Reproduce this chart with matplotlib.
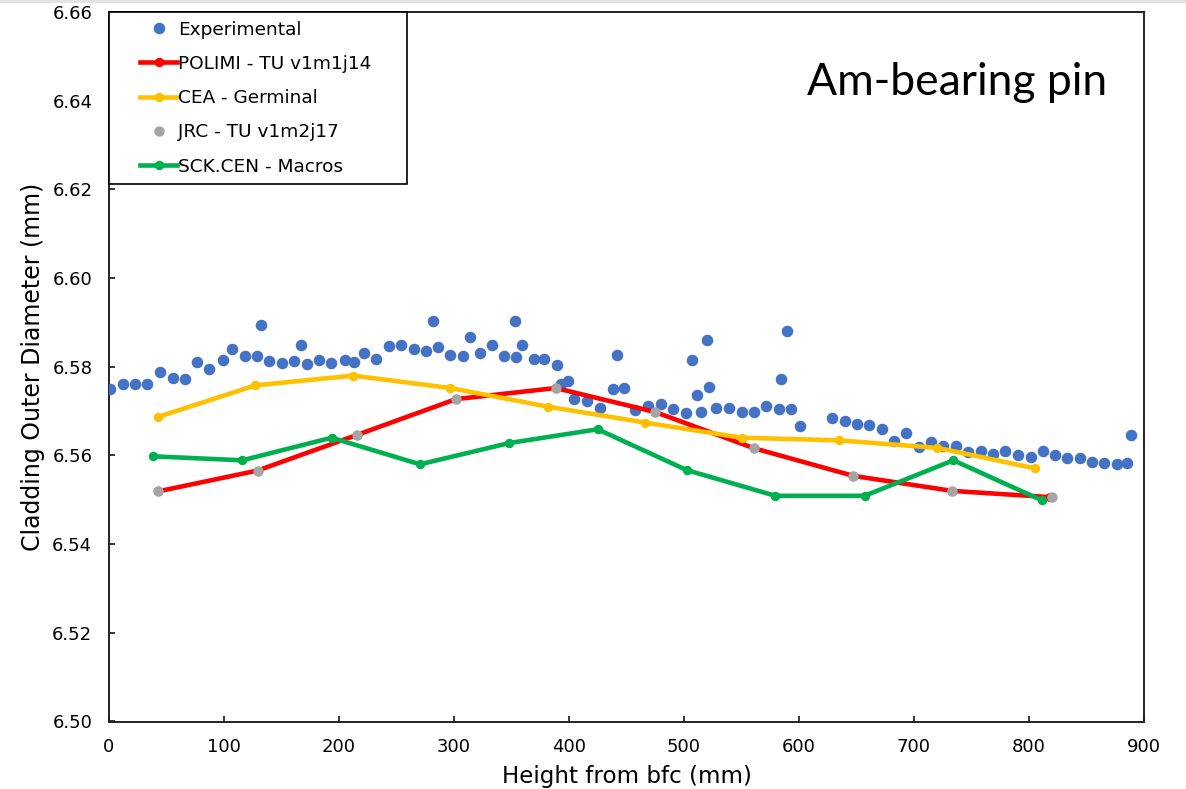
import matplotlib
matplotlib.use("Agg")
import matplotlib.pyplot as plt
from matplotlib.lines import Line2D
from matplotlib.legend_handler import HandlerLine2D
from matplotlib.patches import Rectangle

# Measured cladding outer diameter along the pin
exp_height = [0.9, 11.9, 22.9, 33.3, 44.3, 55.4, 65.8, 76.8, 86.7, 98.9,
              106.9, 117.9, 128.4, 132.2, 139.4, 150.4, 160.9, 167.2, 171.9, 182.3,
              192.8, 204.9, 213.0, 221.7, 232.2, 243.2, 254.2, 265.2, 275.7, 281.7,
              286.1, 296.8, 307.8, 313.9, 322.3, 332.8, 343.2, 353.3, 353.9, 358.8,
              369.6, 378.5, 389.8, 392.8, 399.4, 404.1, 415.4, 426.7, 438.0, 441.5,
              447.6, 457.7, 469.0, 479.7, 490.7, 501.4, 507.2, 511.6, 514.5, 520.0,
              522.0, 528.1, 539.1, 550.2, 560.6, 571.6, 582.6, 584.1, 589.6, 593.0,
              601.2, 628.7, 639.7, 650.7, 661.1, 672.2, 682.6, 692.8, 704.2, 714.5,
              725.5, 736.5, 747.2, 758.0, 769.0, 779.4, 790.2, 801.5, 811.9, 822.6,
              833.3, 844.3, 855.0, 865.5, 876.3, 885.2, 888.7]
exp_diam = [6.5749, 6.5761, 6.5762, 6.5761, 6.5789, 6.5775, 6.5773, 6.5810, 6.5796, 6.5815,
            6.5839, 6.5825, 6.5825, 6.5894, 6.5812, 6.5809, 6.5812, 6.5848, 6.5806, 6.5816,
            6.5809, 6.5816, 6.5810, 6.5830, 6.5818, 6.5846, 6.5850, 6.5841, 6.5836, 6.5903,
            6.5845, 6.5827, 6.5825, 6.5866, 6.5830, 6.5848, 6.5824, 6.5903, 6.5823, 6.5850,
            6.5817, 6.5817, 6.5803, 6.5760, 6.5767, 6.5727, 6.5722, 6.5707, 6.5750, 6.5827,
            6.5752, 6.5702, 6.5711, 6.5715, 6.5705, 6.5696, 6.5816, 6.5737, 6.5698, 6.5860,
            6.5755, 6.5706, 6.5706, 6.5697, 6.5698, 6.5711, 6.5705, 6.5773, 6.5881, 6.5704,
            6.5667, 6.5685, 6.5677, 6.5670, 6.5668, 6.5660, 6.5632, 6.5650, 6.5620, 6.5631,
            6.5622, 6.5622, 6.5607, 6.5610, 6.5604, 6.5610, 6.5600, 6.5596, 6.5610, 6.5600,
            6.5594, 6.5594, 6.5585, 6.5582, 6.5580, 6.5584, 6.5647]

# Code predictions
polimi_height = [42.9, 129.3, 215.4, 301.7, 388.4, 474.8, 561.1, 647.2, 733.3, 818.0]
polimi_diam = [6.5519, 6.5566, 6.5646, 6.5727, 6.5752, 6.5698, 6.5616, 6.5554, 6.5520, 6.5506]

cea_height = [42.9, 127.2, 212.4, 296.8, 381.7, 466.4, 550.2, 635.1, 720.3, 805.2]
cea_diam = [6.5687, 6.5758, 6.5780, 6.5752, 6.5710, 6.5674, 6.5640, 6.5634, 6.5617, 6.5571]

jrc_height = [42.9, 129.3, 215.4, 301.7, 388.4, 474.8, 561.1, 647.2, 733.3, 819.7]
jrc_diam = [6.5519, 6.5566, 6.5646, 6.5727, 6.5752, 6.5698, 6.5616, 6.5554, 6.5520, 6.5506]

sck_height = [38.5, 115.9, 193.6, 270.4, 348.1, 424.9, 502.3, 579.4, 657.0, 734.2, 811.0]
sck_diam = [6.5598, 6.5589, 6.5640, 6.5580, 6.5628, 6.5659, 6.5567, 6.5509, 6.5509, 6.5589, 6.5499]

x_ticks = [0, 100, 200, 300, 400, 500, 600, 700, 800, 900]
y_ticks = [6.50, 6.52, 6.54, 6.56, 6.58, 6.60, 6.62, 6.64, 6.66]

W, H = 1186, 789
fig = plt.figure(figsize=(W / 100, H / 100), dpi=100)
fig.patches.append(Rectangle((0, 1 - 3 / H), 1, 3 / H, transform=fig.transFigure,
                             facecolor="#e3e3e3", edgecolor="none"))

ax = fig.add_axes([109 / W, 1 - 721.5 / H, (1144 - 109) / W, (721.5 - 12) / H])

ax.plot(exp_height, exp_diam, linestyle="none", marker="o", markersize=7.3,
        color="#4472C4", label="Experimental", zorder=3)
ax.plot(polimi_height, polimi_diam, color="#FF0000", linewidth=3.3, marker="o",
        markersize=5.8, label="POLIMI - TU v1m1j14", zorder=4)
ax.plot(cea_height, cea_diam, color="#FFC000", linewidth=3.3, marker="o",
        markersize=5.8, label="CEA - Germinal", zorder=4)
ax.plot(jrc_height, jrc_diam, linestyle="none", marker="o", markersize=6.5,
        color="#A5A5A5", label="JRC - TU v1m2j17", zorder=6)
ax.plot(sck_height, sck_diam, color="#00B050", linewidth=3.3, marker="o",
        markersize=5.8, label="SCK.CEN - Macros", zorder=5)

ax.set_xlim(0, 900)
ax.set_ylim(6.50, 6.66)
ax.set_xticks(x_ticks)
ax.set_yticks(y_ticks)
ax.set_xticklabels([str(t) for t in x_ticks])
ax.set_yticklabels([f"{t:.2f}" for t in y_ticks])
ax.tick_params(axis="both", direction="in", length=4, width=1.1, labelsize=13,
               colors="black")
ax.tick_params(axis="x", pad=12)
ax.tick_params(axis="y", pad=12)
for side in ax.spines.values():
    side.set_linewidth(1.4)
    side.set_color("#222222")

ax.set_xlabel("Height from bfc (mm)", fontsize=16.6, labelpad=6)
ax.set_ylabel("Cladding Outer Diameter (mm)", fontsize=17, labelpad=5)

leg = ax.legend(loc="upper left", bbox_to_anchor=(0, 1, (407 - 109) / (1144 - 109), 0),
                mode="expand", borderaxespad=0, fontsize=13.3, numpoints=1,
                handlelength=3.23, handletextpad=0.05, borderpad=0.47,
                labelspacing=0.88, fancybox=False, framealpha=1,
                edgecolor="black",
                handler_map={Line2D: HandlerLine2D(xpad=1.22)})
leg.get_frame().set_linewidth(1.2)
leg.set_zorder(10)

fig.text(807 / W, 1 - 95 / H, "Am-bearing pin", fontsize=32, family="Lato",
         ha="left", va="baseline")

fig.savefig("out.png", dpi=100, facecolor="white")
